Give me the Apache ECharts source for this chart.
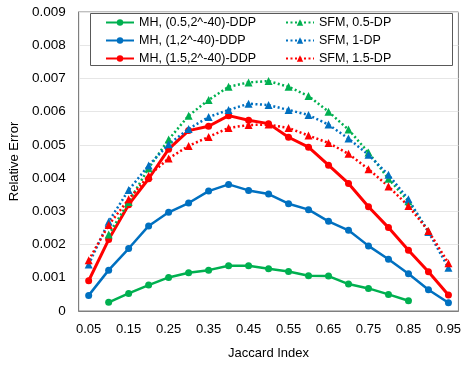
<!DOCTYPE html>
<html>
<head>
<meta charset="utf-8">
<script src="https://cdn.jsdelivr.net/npm/echarts@6/dist/echarts.min.js"></script>
<style>
  html, body { margin: 0; padding: 0; background: #fff; }
  #chart { width: 464px; height: 365px; }
</style>
</head>
<body>
<div id="chart"></div>
<script>
const jaccard = ["0.05", "0.10", "0.15", "0.20", "0.25", "0.30", "0.35", "0.40", "0.45", "0.50",
  "0.55", "0.60", "0.65", "0.70", "0.75", "0.80", "0.85", "0.90", "0.95"];

const mh05 = [null, 0.00026, 0.00053, 0.00078, 0.00101, 0.00115, 0.00123, 0.00136, 0.00136, 0.00127,
  0.00119, 0.00106, 0.00105, 0.00081, 0.00068, 0.0005, 0.00031, null, null];
const mh1 = [0.00047, 0.00123, 0.00188, 0.00256, 0.00297, 0.00325, 0.00361, 0.00381, 0.00363, 0.00352,
  0.00323, 0.00305, 0.0027, 0.00243, 0.00196, 0.00156, 0.00112, 0.00064, 0.00025];
const mh15 = [0.00091, 0.00215, 0.0032, 0.00398, 0.00487, 0.00543, 0.00556, 0.00588, 0.00574, 0.00564,
  0.00523, 0.00493, 0.00439, 0.00384, 0.00314, 0.00251, 0.00183, 0.00118, 0.00048];
const sfm05 = [null, 0.0023, 0.00328, 0.0043, 0.00516, 0.00588, 0.00635, 0.00675, 0.00688, 0.00692,
  0.00675, 0.00647, 0.006, 0.00546, 0.00477, 0.00398, 0.0033, 0.0024, null];
const sfm1 = [0.0014, 0.00269, 0.00364, 0.00438, 0.00502, 0.00548, 0.00584, 0.00605, 0.00624, 0.0062,
  0.00605, 0.0059, 0.00561, 0.00519, 0.0047, 0.0041, 0.00336, 0.00238, 0.0013];
const sfm15 = [0.00153, 0.00259, 0.00336, 0.00407, 0.00459, 0.00497, 0.00524, 0.00551, 0.0056, 0.00561,
  0.00551, 0.00528, 0.00506, 0.00473, 0.00427, 0.00375, 0.00316, 0.00241, 0.00144];

const GREEN = "#00B050", BLUE = "#0070C0", RED = "#FF0000";
const font = "Liberation Sans";

const myChart = echarts.init(document.getElementById("chart"), null, { renderer: "canvas" });

const solid = (name, data, color, width) => ({
  name, data, type: "line", symbol: "circle", symbolSize: 7,
  itemStyle: { color }, lineStyle: { color, width },
  connectNulls: false, z: 3,
});
const dotted = (name, data, color) => ({
  name, data, type: "line", symbol: "triangle", symbolSize: 8,
  itemStyle: { color }, lineStyle: { color, width: 2.5, type: [2, 2.5] },
  z: 4,
});

const legendBase = {
  orient: "vertical",
  top: 16,
  padding: 0,
  itemWidth: 28,
  itemHeight: 8,
  itemGap: 5,
  textStyle: { fontFamily: font, fontSize: 12.5, color: "#000", lineHeight: 12 },
  z: 10,
};

myChart.setOption({
  animation: false,
  textStyle: { fontFamily: font },
  grid: {
    left: 77, right: 4, top: 12, bottom: 51,
    show: true, borderColor: "#7f7f7f", borderWidth: 1,
  },
  graphic: [{
    type: "rect", z: 5,
    shape: { x: 90.5, y: 13.5, width: 362, height: 52 },
    style: { fill: "#fff", stroke: "#595959", lineWidth: 1 },
  }],
  legend: [
    Object.assign({}, legendBase, {
      left: 105,
      data: ["MH, (0.5,2^-40)-DDP", "MH, (1,2^-40)-DDP", "MH, (1.5,2^-40)-DDP"],
    }),
    Object.assign({}, legendBase, {
      left: 285,
      data: ["SFM, 0.5-DP", "SFM, 1-DP", "SFM, 1.5-DP"],
    }),
  ],
  xAxis: {
    type: "category",
    data: jaccard,
    boundaryGap: true,
    name: "Jaccard Index",
    nameLocation: "middle",
    nameGap: 36,
    nameTextStyle: { fontFamily: font, fontSize: 13, color: "#000" },
    axisLine: { lineStyle: { color: "#7f7f7f" } },
    axisTick: { alignWithLabel: true, interval: 0, length: 4, lineStyle: { color: "#7f7f7f" } },
    axisLabel: { interval: 1, fontFamily: font, fontSize: 13, color: "#000", margin: 12 },
    splitLine: { show: false },
  },
  yAxis: {
    type: "value",
    min: 0, max: 0.009, interval: 0.001,
    name: "Relative Error",
    nameLocation: "middle",
    nameGap: 50,
    nameTextStyle: { fontFamily: font, fontSize: 13, color: "#000" },
    axisLine: { show: true, lineStyle: { color: "#7f7f7f" } },
    axisTick: { show: false },
    axisLabel: {
      fontFamily: font, fontSize: 13.5, color: "#000", margin: 13,
      formatter: (v) => (v === 0 ? "0" : v.toFixed(3)),
    },
    splitLine: { lineStyle: { color: "#e6e6e6", width: 1 } },
  },
  series: [
    solid("MH, (0.5,2^-40)-DDP", mh05, GREEN, 2.5),
    solid("MH, (1,2^-40)-DDP", mh1, BLUE, 2.5),
    solid("MH, (1.5,2^-40)-DDP", mh15, RED, 3),
    dotted("SFM, 0.5-DP", sfm05, GREEN),
    dotted("SFM, 1-DP", sfm1, BLUE),
    dotted("SFM, 1.5-DP", sfm15, RED),
  ],
});
</script>
</body>
</html>
